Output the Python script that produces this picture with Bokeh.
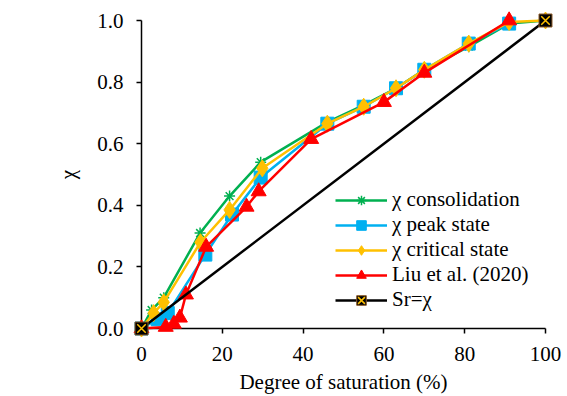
from bokeh.plotting import figure
from bokeh.models import (Range1d, SingleIntervalTicker, NumeralTickFormatter,
                          Legend, LegendItem)
from bokeh.embed import file_html
from bokeh.resources import INLINE

# ---- data ----
x_cons = [0, 2.5, 5.5, 14.5, 21.8, 29.5, 46, 55, 63, 70, 81, 91, 100]
y_cons = [0, 0.06, 0.10, 0.31, 0.43, 0.54, 0.67, 0.725, 0.78, 0.84, 0.915, 0.99, 1.0]

x_peak = [0, 4, 6.5, 15.8, 22.4, 29.5, 46, 55, 63, 70, 81, 91]
y_peak = [0, 0.03, 0.05, 0.24, 0.37, 0.49, 0.665, 0.72, 0.78, 0.84, 0.925, 0.99]

x_crit = [0, 3, 5.5, 14.6, 21.8, 29.9, 46, 55, 63, 70, 81, 91, 100]
y_crit = [0, 0.05, 0.085, 0.28, 0.385, 0.52, 0.665, 0.72, 0.78, 0.84, 0.925, 0.995, 1.0]

x_liu = [0, 6, 8, 9.5, 11, 16, 26, 29, 42, 60, 70, 91]
y_liu = [0, 0.005, 0.015, 0.035, 0.11, 0.265, 0.395, 0.445, 0.615, 0.735, 0.83, 1.0]

x_sr = [0, 100]
y_sr = [0, 1]

labels = ["\u03c7 consolidation", "\u03c7 peak state", "\u03c7 critical state",
          "Liu et al. (2020)", "Sr=\u03c7"]
x_title = "Degree of saturation (%)"
y_title = "\u03c7"

FONT = "Liberation Serif"
GREEN, BLUE, YELLOW, RED = "#00B050", "#00B0F0", "#FFC000", "#FF0000"

p = figure(width=567, height=396, output_backend="svg", toolbar_location=None,
           x_range=Range1d(0, 100), y_range=Range1d(0, 1),
           min_border_left=141, min_border_right=22,
           min_border_top=20, min_border_bottom=68)
p.outline_line_color = None
p.grid.visible = False
p.background_fill_color = "white"
p.border_fill_color = "white"

for ax in (p.xaxis[0], p.yaxis[0]):
    ax.axis_line_color = "black"
    ax.axis_line_width = 1.5
    ax.major_tick_line_color = "black"
    ax.major_tick_line_width = 1.5
    ax.major_tick_in = 0
    ax.major_tick_out = 5
    ax.minor_tick_line_color = None
    ax.major_label_text_font = FONT
    ax.major_label_text_font_size = "21px"
    ax.major_label_text_color = "black"
    ax.axis_label_text_font = FONT
    ax.axis_label_text_font_size = "21px"
    ax.axis_label_text_font_style = "normal"
    ax.axis_label_text_color = "black"

p.xaxis[0].ticker = SingleIntervalTicker(interval=20)
p.xaxis[0].major_label_standoff = 13
p.xaxis[0].axis_label = x_title
p.xaxis[0].axis_label_standoff = 6

p.yaxis[0].ticker = SingleIntervalTicker(interval=0.2)
p.yaxis[0].formatter = NumeralTickFormatter(format="0.0")
p.yaxis[0].major_label_standoff = 13
p.yaxis[0].axis_label = y_title
p.yaxis[0].axis_label_standoff = 14

LW = 2.5
LV = "overlay"  # drawn without clipping to the frame, like the reference
g_l = p.line(x_cons, y_cons, line_color=GREEN, line_width=LW, level=LV)
g_m = p.scatter(x_cons, y_cons, marker="asterisk", size=11, line_color=GREEN, line_width=1.5, level=LV)

b_l = p.line(x_peak, y_peak, line_color=BLUE, line_width=LW, level=LV)
b_m = p.scatter(x_peak, y_peak, marker="square", size=13, fill_color=BLUE, line_color=BLUE, level=LV)

y_l = p.line(x_crit, y_crit, line_color=YELLOW, line_width=LW, level=LV)
y_m = p.scatter(x_crit, y_crit, marker="diamond", size=17, fill_color=YELLOW, line_color=YELLOW, level=LV)

r_l = p.line(x_liu, y_liu, line_color=RED, line_width=LW, level=LV)
r_m = p.scatter(x_liu, y_liu, marker="triangle", size=15, fill_color=RED, line_color=RED, level=LV)

k_l = p.line(x_sr, y_sr, line_color="black", line_width=LW, level=LV)
k_m = p.scatter(x_sr, y_sr, marker="square", size=13, fill_color="black", line_color="#8B5A2B",
                line_width=1, level=LV)
k_x = p.scatter(x_sr, y_sr, marker="x", size=12, line_color=YELLOW, line_width=1.5, level=LV)

legend = Legend(items=[
    LegendItem(label=labels[0], renderers=[g_l, g_m]),
    LegendItem(label=labels[1], renderers=[b_l, b_m]),
    LegendItem(label=labels[2], renderers=[y_l, y_m]),
    LegendItem(label=labels[3], renderers=[r_l, r_m]),
    LegendItem(label=labels[4], renderers=[k_l, k_m, k_x]),
], location=(194, 16))
legend.label_text_font = FONT
legend.label_text_font_size = "21px"
legend.label_text_color = "black"
legend.glyph_width = 52
legend.glyph_height = 24
legend.label_height = 24
legend.label_standoff = 5
legend.spacing = 0
legend.padding = 0
legend.margin = 0
legend.border_line_color = None
legend.background_fill_alpha = 0
p.add_layout(legend)

open("out.html", "w").write(file_html(p, INLINE))
